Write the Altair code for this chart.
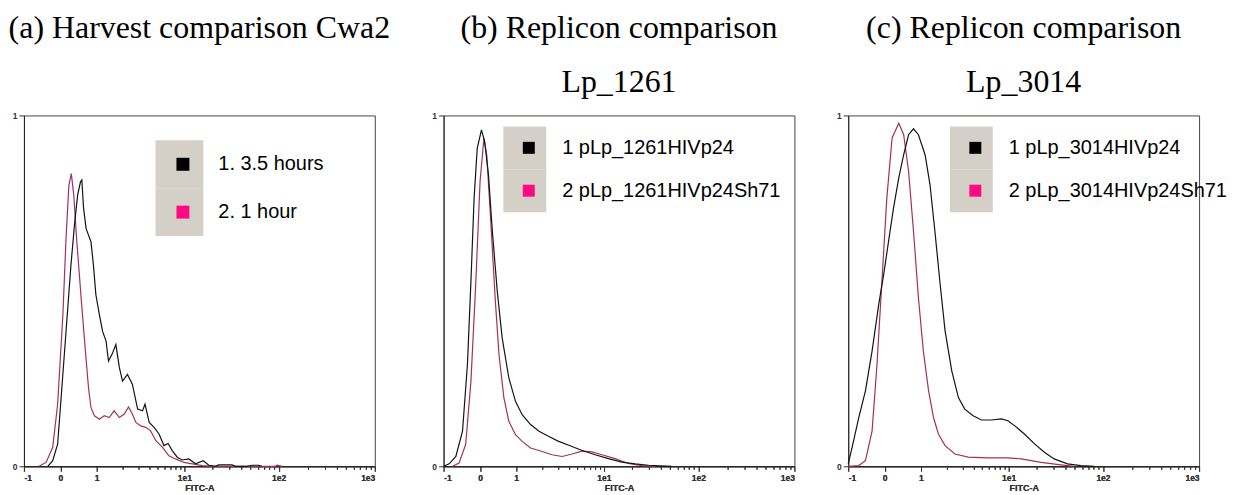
import math
import altair as alt
import pandas as pd

# ---- axis: biexponential display positions (0..100) and their labels ----
TICK_POS = [0, 10.4, 20.7, 45.7, 72.6, 100]
TICK_LABELS = ["-1", "0", "1", "1e1", "1e2", "1e3"]

# ---- panel (a) Harvest comparison Cwa2 ----
A_NAMES = ["1. 3.5 hours", "2. 1 hour"]
A_BLACK_X = [6.8, 8.2, 9.6, 10.6, 12.0, 13.4, 14.4, 15.3, 16.1, 16.5, 17.0, 17.7, 18.4, 19.1,
             19.8, 20.5, 21.5, 22.4, 23.4, 24.1, 25.1, 26.2, 27.2, 28.1, 29.5, 30.9, 32.4, 33.8,
             34.5, 35.7, 37.1, 38.5, 39.9, 41.1, 42.3, 43.7, 45.1, 47.0, 48.9, 51.1, 52.7, 54.6,
             55.5, 59.3, 60.3, 63.5, 65.0, 66.9, 67.8]
A_BLACK_Y = [0, 0.016, 0.063, 0.196, 0.385, 0.574, 0.688, 0.773, 0.81, 0.816, 0.735, 0.678,
             0.659, 0.64, 0.574, 0.489, 0.432, 0.385, 0.357, 0.30, 0.319, 0.347, 0.281, 0.243,
             0.262, 0.234, 0.163, 0.158, 0.177, 0.125, 0.111, 0.092, 0.059, 0.065, 0.044, 0.026,
             0.018, 0.021, 0.007, 0.016, 0.003, 0, 0.004, 0.004, 0, 0, 0.003, 0.003, 0]
A_PINK_X = [4.3, 6.3, 8.2, 9.6, 11.1, 12.0, 12.8, 13.5, 14.2, 15.0, 16.3, 17.5, 18.4, 19.1,
            20.1, 21.5, 22.9, 24.3, 25.7, 27.2, 28.6, 29.8, 30.9, 31.9, 33.3, 34.7, 36.1, 37.6,
            39.5, 41.3, 43.2, 45.6, 48.0, 50.8, 53.6, 71.6, 72.2, 73.5]
A_PINK_Y = [0, 0.011, 0.054, 0.177, 0.432, 0.65, 0.80, 0.834, 0.773, 0.65, 0.48, 0.33, 0.224,
            0.167, 0.144, 0.134, 0.144, 0.139, 0.158, 0.139, 0.149, 0.169, 0.149, 0.125, 0.115,
            0.111, 0.101, 0.073, 0.054, 0.03, 0.021, 0.011, 0.007, 0.002, 0, 0, 0.003, 0]

# ---- panel (b) Replicon comparison Lp_1261 ----
B_NAMES = ["1 pLp_1261HIVp24", "2 pLp_1261HIVp24Sh71"]
B_BLACK_X = [0, 1.6, 3.5, 5.4, 6.8, 7.8, 8.7, 9.6, 10.8, 11.7, 12.8, 13.9, 15.3, 16.7, 18.6,
             20.5, 22.4, 24.8, 27.2, 30.0, 32.8, 35.7, 39.5, 43.2, 47.0, 50.8, 54.6, 58.4, 65.0]
B_BLACK_Y = [0, 0.007, 0.028, 0.1, 0.29, 0.527, 0.764, 0.907, 0.959, 0.926, 0.831, 0.67, 0.499,
             0.366, 0.252, 0.185, 0.147, 0.119, 0.1, 0.085, 0.071, 0.06, 0.045, 0.033, 0.022,
             0.012, 0.007, 0.003, 0]
B_PINK_X = [2.6, 4.4, 6.3, 7.8, 9.2, 10.4, 11.5, 12.3, 13.4, 14.7, 15.8, 17.2, 18.6, 20.5, 22.4,
            24.8, 27.2, 30.9, 33.8, 36.6, 39.5, 42.3, 45.1, 48.9, 52.7, 56.5, 60.3]
B_PINK_Y = [0, 0.009, 0.062, 0.242, 0.527, 0.812, 0.935, 0.888, 0.707, 0.48, 0.318, 0.195,
            0.128, 0.09, 0.071, 0.052, 0.045, 0.033, 0.028, 0.035, 0.043, 0.041, 0.033, 0.022,
            0.008, 0.002, 0]

# ---- panel (c) Replicon comparison Lp_3014 ----
C_NAMES = ["1 pLp_3014HIVp24", "2 pLp_3014HIVp24Sh71"]
C_BLACK_X = [0, 1.1, 3.0, 4.9, 6.8, 8.7, 10.1, 11.5, 12.9, 14.4, 15.8, 17.2, 18.6, 20.0, 21.9,
             23.3, 24.7, 26.2, 27.6, 29.5, 31.4, 33.2, 35.6, 38.0, 40.8, 43.6, 45.5, 47.4, 50.2,
             53.1, 55.9, 58.7, 62.5, 66.3, 70.1]
C_BLACK_Y = [0.007, 0.054, 0.139, 0.215, 0.329, 0.462, 0.547, 0.642, 0.736, 0.822, 0.888,
             0.945, 0.962, 0.945, 0.888, 0.803, 0.67, 0.518, 0.386, 0.272, 0.196, 0.163, 0.144,
             0.132, 0.132, 0.135, 0.13, 0.116, 0.092, 0.064, 0.04, 0.021, 0.007, 0.002, 0]
C_PINK_X = [0, 3.0, 4.9, 6.8, 8.2, 9.6, 11.0, 12.5, 14.4, 15.8, 17.2, 18.6, 20.0, 21.4, 22.9,
            24.3, 25.7, 27.6, 30.4, 34.2, 39.8, 45.5, 49.3, 55.0, 60.6, 64.4]
C_PINK_Y = [0, 0.002, 0.016, 0.101, 0.291, 0.528, 0.765, 0.936, 0.978, 0.945, 0.841, 0.67,
            0.481, 0.329, 0.215, 0.139, 0.092, 0.059, 0.035, 0.026, 0.024, 0.024, 0.021, 0.011,
            0.004, 0]

LINE_COLORS = ["#141414", "#a2305f"]
FILL_COLORS = ["#000000", "#ff0a80"]
BUTTON_GRAY = "#d4d0c8"
LABEL_SIZE = 20

# minor ticks inside each decade (1..1e1, 1e1..1e2, 1e2..1e3)
MINOR = []
for lo, hi in [(TICK_POS[2], TICK_POS[3]), (TICK_POS[3], TICK_POS[4]), (TICK_POS[4], TICK_POS[5])]:
    for k in range(2, 10):
        MINOR.append(round(lo + math.log10(k) * (hi - lo), 2))

LABEL_EXPR = " : ".join(
    f"datum.value == {p} ? '{l}'" for p, l in zip(TICK_POS, TICK_LABELS)) + " : ''"

X_SCALE = alt.Scale(domain=[0, 100], nice=False, zero=False)
X_AXIS = alt.Axis(values=TICK_POS, labelExpr=LABEL_EXPR, title="FITC-A", tickSize=5,
                  orient="bottom")
MINOR_AXIS = alt.Axis(values=MINOR, labels=False, tickSize=3, domain=False,
                      grid=False, title=None, orient="bottom")
Y_AXIS = alt.Axis(values=[0, 1], format="d", tickSize=5, title=None)
Y_SCALE = alt.Scale(domain=[0, 1], nice=False, zero=True)


def make_df(names, bx, by, px, py):
    rows = []
    for i, (x, y) in enumerate(zip(px, py)):
        rows.append({"series": names[1], "box": names[1] + " ", "x": x, "y": y, "i": i})
    for i, (x, y) in enumerate(zip(bx, by)):
        rows.append({"series": names[0], "box": names[0] + " ", "x": x, "y": y, "i": i})
    return pd.DataFrame(rows)


def panel(df, names, title, subtitle, ax, ay, side, inner):
    base = alt.Chart(df)
    # one line layer per series (pink first, black on top), fixed colours
    line_layers = []
    for name, col in [(names[1], LINE_COLORS[1]), (names[0], LINE_COLORS[0])]:
        line_layers.append(
            base.transform_filter(alt.datum.series == name).mark_line(
                strokeWidth=1.2, color=col).encode(
                x=alt.X("x:Q", scale=X_SCALE, axis=X_AXIS),
                y=alt.Y("y:Q", scale=Y_SCALE, axis=Y_AXIS),
                order=alt.Order("i:Q"),
            ))
    # legend A: the grey button panel (one grey square per entry, no labels)
    box_layer = base.mark_point(filled=True, color=BUTTON_GRAY, opacity=0).encode(
        x=alt.X("x:Q", scale=X_SCALE, axis=MINOR_AXIS),
        y=alt.Y("y:Q", scale=Y_SCALE, axis=Y_AXIS),
        shape=alt.Shape("box:N",
                        scale=alt.Scale(domain=[n + " " for n in names],
                                        range=["square", "square"]),
                        legend=alt.Legend(
                            orient="none", legendX=ax, legendY=ay, title=None,
                            symbolType="square", symbolSize=side * side,
                            symbolFillColor=BUTTON_GRAY, symbolStrokeWidth=0,
                            symbolOpacity=1, labelExpr="''", labelOffset=0,
                            padding=0, rowPadding=0, zindex=0)),
    )
    # legend B: coloured squares with the series labels, on top of the grey panel
    pad = (side - inner) / 2
    key_layer = base.mark_square(filled=True, opacity=0).encode(
        x=alt.X("x:Q", scale=X_SCALE, axis=MINOR_AXIS),
        y=alt.Y("y:Q", scale=Y_SCALE, axis=Y_AXIS),
        fill=alt.Fill("series:N", scale=alt.Scale(domain=names, range=FILL_COLORS),
                      legend=alt.Legend(
                          orient="none", legendX=ax + pad,
                          legendY=ay + side / 2 - LABEL_SIZE / 2, title=None,
                          symbolType="square", symbolSize=inner * inner,
                          symbolStrokeWidth=0, symbolOpacity=1,
                          labelFont="Liberation Sans", labelFontSize=LABEL_SIZE,
                          labelColor="#000000", labelOffset=pad + 8, labelLimit=400,
                          padding=0, rowPadding=side - LABEL_SIZE, zindex=1)),
    )
    return alt.layer(*line_layers, box_layer, key_layer).resolve_axis(
        x="independent").resolve_scale(shape="independent", fill="independent").properties(
        width=352, height=352,
        title=alt.TitleParams(text=title, subtitle=subtitle,
                              font="Liberation Serif", fontSize=32,
                              fontWeight="normal", color="#000000",
                              subtitleFont="Liberation Serif", subtitleFontSize=32,
                              subtitleColor="#000000", subtitlePadding=22,
                              offset=13, anchor="middle"))


pa = panel(make_df(A_NAMES, A_BLACK_X, A_BLACK_Y, A_PINK_X, A_PINK_Y), A_NAMES,
           "(a) Harvest comparison Cwa2", " ", 132, 25, 48, 13)
pb = panel(make_df(B_NAMES, B_BLACK_X, B_BLACK_Y, B_PINK_X, B_PINK_Y), B_NAMES,
           "(b) Replicon comparison", "Lp_1261", 60, 11, 43, 12)
pc = panel(make_df(C_NAMES, C_BLACK_X, C_BLACK_Y, C_PINK_X, C_PINK_Y), C_NAMES,
           "(c) Replicon comparison", "Lp_3014", 102, 11, 43, 12)

chart = alt.hconcat(pa, pb, pc, spacing=40, bounds="full").resolve_scale(
    fill="independent", shape="independent"
).resolve_legend(fill="independent", shape="independent").properties(
    padding={"left": 0, "top": 2, "right": 0, "bottom": 0}
).configure_view(stroke="#444444", strokeWidth=1).configure_axis(
    grid=False, labelFont="Liberation Sans", labelFontSize=8.5, labelFontWeight="bold",
    labelColor="#333333", tickColor="#333333", domainColor="#222222",
    titleFont="Liberation Sans", titleFontSize=9, titleFontWeight="bold",
    titleColor="#333333", titlePadding=2, labelPadding=2,
)

chart.save("out.html", embed_options={"renderer": "svg", "actions": False})
